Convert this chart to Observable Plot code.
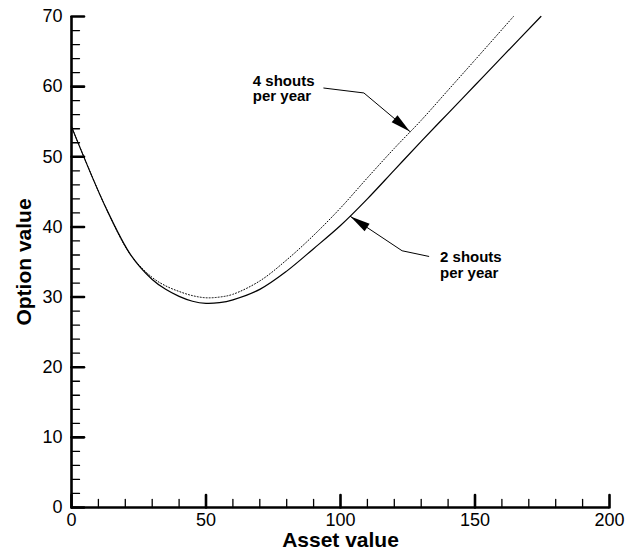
<!DOCTYPE html>
<html><head><meta charset="utf-8">
<script src="https://cdn.jsdelivr.net/npm/d3@7"></script>
<script src="https://cdn.jsdelivr.net/npm/@observablehq/plot@0.6"></script>
<style>
body{margin:0;background:#fff}
#chart{width:626px;height:550px}
</style>
</head><body><div id="chart"></div>
<script>
// Data
const assetTwo  = [0, 12.7, 22.2, 30, 35, 40, 45, 50, 55, 60, 70, 80, 90, 100, 110, 120, 130, 140, 150, 160, 174.5];
const valueTwo  = [54.3, 42.8, 35.9, 32.5, 31.1, 30.1, 29.4, 29.1, 29.2, 29.6, 31.1, 33.7, 36.9, 40.2, 44.0, 48.1, 52.2, 56.2, 60.2, 64.2, 70];
const assetFour = [0, 12.7, 22.2, 30, 35, 40, 45, 50, 55, 60, 70, 80, 90, 100, 110, 120, 130, 140, 150, 164.3];
const valueFour = [54.3, 42.8, 35.9, 32.8, 31.6, 30.8, 30.2, 29.9, 30.0, 30.4, 32.3, 35.3, 38.8, 42.7, 47.0, 51.2, 55.2, 59.5, 63.8, 70];

const xMajorTicks = [0, 50, 100, 150, 200];
const xMinorTicks = [10, 20, 30, 40, 60, 70, 80, 90, 110, 120, 130, 140, 160, 170, 180, 190];
const yMajorTicks = [0, 10, 20, 30, 40, 50, 60, 70];
const yMinorTicks = [2, 4, 6, 8, 12, 14, 16, 18, 22, 24, 26, 28, 32, 34, 36, 38, 42, 44, 46, 48, 52, 54, 56, 58, 62, 64, 66, 68];

const annotationText  = ["4 shouts\nper year", "2 shouts\nper year"];
const annotationTextX = [67.4, 137];
const annotationTextY = [61.7, 36.5];
const leaderX = [[93.8, 108.7, 125.8], [132.8, 122.9, 103.7]];
const leaderY = [[59.8, 59.1, 53.6], [35.8, 36.6, 41.5]];

const xLabel = "Asset value";
const yLabel = "Option value";

// Layout
const W = 626, H = 550, mL = 71, mR = 17, mT = 16, mB = 43;
const kx = (W - mL - mR) / 200, ky = (H - mT - mB) / 70;

const twoRows = assetTwo.map((a, i) => ({asset: a, value: valueTwo[i]}));
const fourRows = assetFour.map((a, i) => ({asset: a, value: valueFour[i]}));
const leaderRows = leaderX.flatMap((xs, j) => xs.map((x, i) => ({x, y: leaderY[j][i], k: j})));
const headRows = leaderX.map((xs, j) => {
  const n = xs.length;
  const dx = (xs[n-1] - xs[n-2]) * kx;
  const dy = -(leaderY[j][n-1] - leaderY[j][n-2]) * ky;
  return {x: xs[n-1], y: leaderY[j][n-1], r: Math.atan2(dx, -dy) * 180 / Math.PI};
});
const textRows = annotationText.map((t, i) => ({t, x: annotationTextX[i], y: annotationTextY[i]}));

const tickShape = {draw(c, l) { c.moveTo(0, 0); c.lineTo(0, -l); }};
const headShape = {draw(c, l, r) { c.moveTo(0, -l); c.lineTo(-r, 0); c.lineTo(r, 0); c.closePath(); }};

const chart = Plot.plot({
  width: W, height: H,
  marginLeft: mL, marginRight: mR, marginTop: mT, marginBottom: mB,
  style: {fontFamily: "'Liberation Sans', Arial, sans-serif", fontSize: "18px", color: "black", background: "white"},
  x: {domain: [0, 200], axis: null},
  y: {domain: [0, 70], axis: null},
  marks: [
    // tick labels
    Plot.axisX({ticks: xMajorTicks, tickSize: 0, tickPadding: 6, label: null, fontSize: 18, tickFormat: d => String(d)}),
    Plot.axisY({ticks: yMajorTicks, tickSize: 0, tickPadding: 9, label: null, fontSize: 18, tickFormat: d => String(d)}),
    // inward ticks
    Plot.vector(xMinorTicks, {x: d => d, y: () => 0, length: 8, rotate: 0, anchor: "start", shape: tickShape, stroke: "black", strokeWidth: 1.3}),
    Plot.vector(xMajorTicks, {x: d => d, y: () => 0, length: 12.5, rotate: 0, anchor: "start", shape: tickShape, stroke: "black", strokeWidth: 2.6}),
    Plot.vector(yMinorTicks, {x: () => 0, y: d => d, length: 8, rotate: 90, anchor: "start", shape: tickShape, stroke: "black", strokeWidth: 1.3}),
    Plot.vector(yMajorTicks, {x: () => 0, y: d => d, length: 12.5, rotate: 90, anchor: "start", shape: tickShape, stroke: "black", strokeWidth: 2.6}),
    // axis lines
    Plot.ruleX([0], {stroke: "black", strokeWidth: 2.6}),
    Plot.ruleY([0], {stroke: "black", strokeWidth: 2.6}),
    // curves
    Plot.line(fourRows, {x: "asset", y: "value", stroke: "black", strokeWidth: 1, strokeDasharray: "1,2", curve: "catmull-rom"}),
    Plot.line(twoRows, {x: "asset", y: "value", stroke: "black", strokeWidth: 1.2, curve: "catmull-rom"}),
    // annotations
    Plot.line(leaderRows, {x: "x", y: "y", z: "k", stroke: "black", strokeWidth: 1, curve: "linear"}),
    Plot.vector(headRows, {x: "x", y: "y", rotate: "r", length: 20, r: 4.5, anchor: "end", shape: headShape, fill: "black", stroke: "none"}),
    Plot.text(textRows, {x: "x", y: "y", text: "t", textAnchor: "start", lineAnchor: "top", fontSize: 15, fontWeight: "bold", lineHeight: 1.02}),
    // axis titles
    Plot.text([xLabel], {text: d => d, frameAnchor: "bottom", textAnchor: "middle", lineAnchor: "middle", dy: 32.5, fontSize: 21, fontWeight: "bold"}),
    Plot.text([yLabel], {text: d => d, frameAnchor: "left", textAnchor: "middle", lineAnchor: "middle", dx: -47, rotate: -90, fontSize: 21, fontWeight: "bold"})
  ]
});
document.getElementById("chart").appendChild(chart);
</script>
</body></html>
